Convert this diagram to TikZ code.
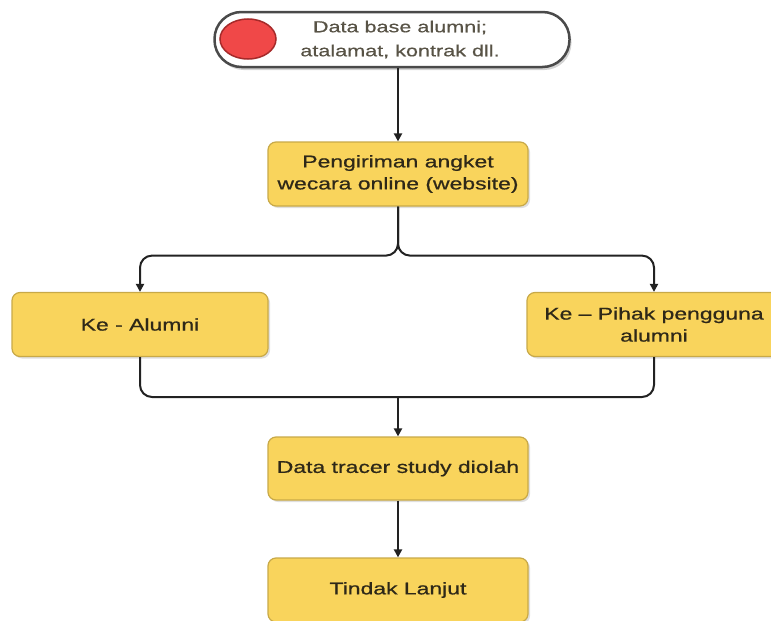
\documentclass[tikz,border=0pt]{standalone}
\usepackage{fontspec}
\usetikzlibrary{arrows.meta,shapes.geometric,shadows}
\newfontfamily\diafont[FakeStretch=1.35,FakeBold=0.8]{Liberation Sans}
\newfontfamily\pillfont[FakeStretch=1.35,FakeBold=0.4]{Liberation Sans}
\definecolor{boxfill}{HTML}{F9D45C}
\definecolor{boxedge}{HTML}{C8A948}
\definecolor{inktext}{HTML}{2E2818}
\definecolor{pilledge}{HTML}{4A4A4A}
\definecolor{dotfill}{HTML}{F04848}
\definecolor{dotedge}{HTML}{A62A2A}
\definecolor{wire}{HTML}{222222}
\tikzset{
  stepbox/.style={rectangle, rounded corners=8pt, fill=boxfill, draw=boxedge,
    line width=1.2pt, align=center, text=inktext,
    font=\diafont\fontsize{17}{22}\selectfont,
    drop shadow={shadow xshift=2pt, shadow yshift=-2pt, opacity=0.25}},
  pill/.style={rectangle, rounded corners=27pt, fill=white, draw=pilledge,
    line width=2.5pt, minimum width=355pt, minimum height=55pt,
    drop shadow={shadow xshift=2pt, shadow yshift=-3pt, opacity=0.35}},
  wireline/.style={draw=wire, line width=2pt},
  wirearrow/.style={wireline, -{Triangle[length=8pt,width=8pt]}}
}
\begin{document}
\begin{tikzpicture}[x=1pt, y=-1pt]
\useasboundingbox (0,0) rectangle (771,621);

% start terminal
\node[pill, label={[xshift=8pt, text=inktext!80, align=center,
  font=\pillfont\fontsize{16}{24}\selectfont]center:Data base alumni;\\atalamat, kontrak dll.}]
  (start) at (392,39.5) {};
\node[ellipse, fill=dotfill, draw=dotedge, line width=1.5pt,
  minimum width=56pt, minimum height=40pt, inner sep=0pt] (dot) at (248,39) {};

% process steps
\node[stepbox, minimum width=260pt, minimum height=64pt] (send) at (398,174)
  {Pengiriman angket\\wecara online (website)};
\node[stepbox, minimum width=256pt, minimum height=64pt] (alumni) at (140,324.5)
  {Ke - Alumni};
\node[stepbox, minimum width=254pt, minimum height=64pt] (user) at (654,324.5)
  {Ke – Pihak pengguna\\alumni};
\node[stepbox, minimum width=260pt, minimum height=63pt] (process) at (398,468.5)
  {Data tracer study diolah};
\node[stepbox, minimum width=260pt, minimum height=64pt] (final) at (398,590)
  {Tindak Lanjut};

% connectors
\draw[wirearrow] (start.south -| send.north) -- (send.north);
\draw[wirearrow, rounded corners=12pt] (send.south) -- ++(0,49) -| (alumni.north);
\draw[wirearrow, rounded corners=12pt] (send.south) -- ++(0,49) -| (user.north);
\coordinate (merge) at (398,397);
\draw[wireline, rounded corners=12pt] (alumni.south) |- (merge) -| (user.south);
\draw[wirearrow] (merge) -- (process.north);
\draw[wirearrow] (process.south) -- (final.north);
\end{tikzpicture}
\end{document}
